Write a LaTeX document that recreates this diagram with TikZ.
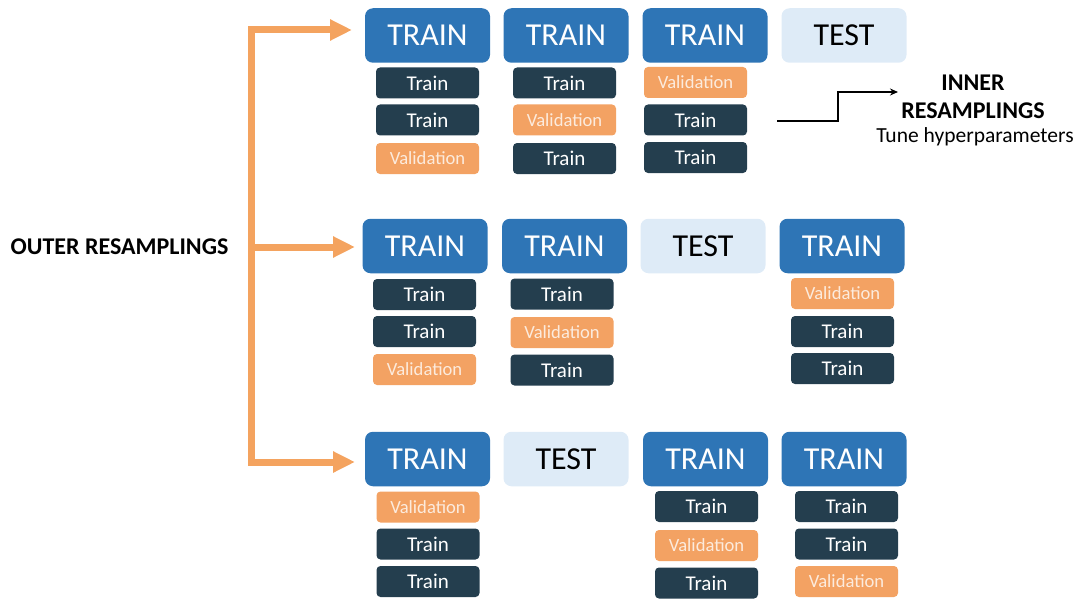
\documentclass[tikz,border=0pt]{standalone}
\usepackage{fontspec}
\setmainfont{Carlito}
\usetikzlibrary{arrows.meta}
\definecolor{bigblue}{HTML}{2E75B6}
\definecolor{testblue}{HTML}{DEEBF7}
\definecolor{darkbox}{HTML}{243E4E}
\definecolor{valor}{HTML}{F3A263}
\definecolor{valtext}{HTML}{FCEBDD}
\definecolor{arrowor}{HTML}{F4A35F}
\begin{document}
\begin{tikzpicture}[x=1pt,y=-1pt,
  big/.style={rounded corners=8pt, minimum width=125pt, minimum height=54.5pt, inner sep=0pt, font=\fontsize{32}{32}\selectfont},
  trainbig/.style={big, fill=bigblue, text=white},
  testbig/.style={big, fill=testblue, text=black},
  small/.style={rounded corners=4pt, minimum width=103pt, minimum height=31pt, inner sep=0pt},
  tr/.style={small, fill=darkbox, text=white, font=\fontsize{21}{21}\selectfont},
  va/.style={small, fill=valor, text=valtext, font=\fontsize{18.6}{18.6}\selectfont},
  bigtitle/.style={font=\bfseries\fontsize{24}{24}\selectfont, inner sep=0pt, anchor=base},
  oline/.style={draw=arrowor, line width=7pt, line join=miter},
  ohead/.style={-{Triangle[length=22pt,width=20pt]}},
  iarrow/.style={draw=black, line width=1.6pt, -{Stealth[length=8pt,width=7pt]}}
]
\useasboundingbox (0,0) rectangle (1081,599);

% ---- Row 1
\node[trainbig] (r1b1) at (427.5,35.5) {TRAIN};
\node[trainbig] (r1b2) at (566,35.5) {TRAIN};
\node[trainbig] (r1b3) at (705,35.5) {TRAIN};
\node[testbig]  (r1b4) at (844,35.5) {TEST};
\node[tr] (r1c1s1) at (427.5,83) {Train};
\node[tr] (r1c1s2) at (427.5,120) {Train};
\node[va] (r1c1s3) at (427.5,158.5) {Validation};
\node[tr] (r1c2s1) at (564.5,83) {Train};
\node[va] (r1c2s2) at (564.5,120) {Validation};
\node[tr] (r1c2s3) at (564.5,158.5) {Train};
\node[va] (r1c3s1) at (695.5,82.5) {Validation};
\node[tr] (r1c3s2) at (695.5,120) {Train};
\node[tr] (r1c3s3) at (695.5,157.5) {Train};

% ---- Row 2
\node[trainbig] (r2b1) at (425,246) {TRAIN};
\node[trainbig] (r2b2) at (564.5,246) {TRAIN};
\node[testbig]  (r2b3) at (703,246) {TEST};
\node[trainbig] (r2b4) at (842,246) {TRAIN};
\node[tr] (r2c1s1) at (424.5,294.5) {Train};
\node[tr] (r2c1s2) at (424.5,331.5) {Train};
\node[va] (r2c1s3) at (424.5,369.5) {Validation};
\node[tr] (r2c2s1) at (562,294) {Train};
\node[va] (r2c2s2) at (562,332.5) {Validation};
\node[tr] (r2c2s3) at (562,370) {Train};
\node[va] (r2c4s1) at (842.5,293.5) {Validation};
\node[tr] (r2c4s2) at (842.5,331.5) {Train};
\node[tr] (r2c4s3) at (842.5,368.5) {Train};

% ---- Row 3
\node[trainbig] (r3b1) at (427.5,459) {TRAIN};
\node[testbig]  (r3b2) at (566,459) {TEST};
\node[trainbig] (r3b3) at (705.5,459) {TRAIN};
\node[trainbig] (r3b4) at (844,459) {TRAIN};
\node[va] (r3c1s1) at (428,507) {Validation};
\node[tr] (r3c1s2) at (428,544) {Train};
\node[tr] (r3c1s3) at (428,581.5) {Train};
\node[tr] (r3c3s1) at (706.5,506.5) {Train};
\node[va] (r3c3s2) at (706.5,545.5) {Validation};
\node[tr] (r3c3s3) at (706.5,583) {Train};
\node[tr] (r3c4s1) at (846.5,506.5) {Train};
\node[tr] (r3c4s2) at (846.5,544) {Train};
\node[va] (r3c4s3) at (846.5,581.5) {Validation};

% ---- Labels
\node[bigtitle] (outer) at (119.5,254.3) {OUTER RESAMPLINGS};
\node[bigtitle] (inner1) at (973,91) {INNER};
\node[bigtitle] (inner2) at (973,118.3) {RESAMPLINGS};
\node[font=\fontsize{21.5}{21.5}\selectfont, inner sep=0pt, anchor=base] (tune) at (975,142.3) {Tune hyperparameters};

% ---- Outer orange arrows
\coordinate (t1) at (352,30);
\coordinate (t2) at (355,247);
\coordinate (t3) at (355,462);
\coordinate (spine) at (251,247);
\draw[oline, ohead] (spine) |- (t1);
\draw[oline, ohead] (spine) |- (t3);
\draw[oline, ohead] (spine) -- (t2);

% ---- Inner arrow
\coordinate (ia) at (777,121);
\coordinate (ic) at (838,92);
\coordinate (ib) at (898,92);
\draw[iarrow] (ia) -| (ic) -- (ib);
\end{tikzpicture}
\end{document}
